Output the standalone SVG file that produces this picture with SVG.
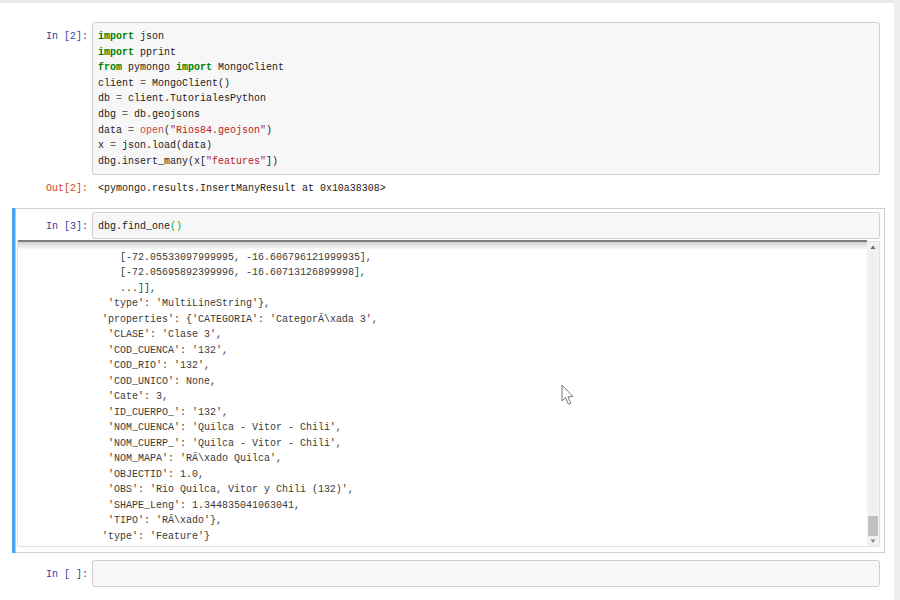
<svg xmlns="http://www.w3.org/2000/svg" width="900" height="600" viewBox="0 0 900 600">
<style>
.code{font-family:"Liberation Mono","DejaVu Sans Mono",monospace;font-size:11.5px;fill:#222}
.pin{fill:#303F9F}
.pout{fill:#D84315}
.kw{fill:#008000;font-weight:bold}
.str{fill:#BA2121}
.bi{fill:#c0504d}
.op{fill:#666}
.mb{fill:#11aa11}
.out{fill:#3a3a3a}
.inbox{fill:#f7f7f7;stroke:#cfcfcf;stroke-width:1}
</style>
<defs>
<clipPath id="outclip"><rect x="18" y="242" width="849" height="305"/></clipPath>
<linearGradient id="shadow" x1="0" y1="0" x2="0" y2="1">
<stop offset="0" stop-color="#000" stop-opacity="0.18"/>
<stop offset="1" stop-color="#000" stop-opacity="0"/>
</linearGradient>
</defs>
<rect width="900" height="600" fill="#ffffff"/>
<rect x="0" y="0" width="900" height="3" fill="#e9e9e9"/>
<rect x="894" y="0" width="6" height="600" fill="#eeeeee"/>

<g id="cell1">
<rect class="inbox" x="92.5" y="22.5" width="787" height="152" rx="2"/>
<g transform="translate(88 0) scale(0.87 1)" class="code" text-anchor="end">
<text class="pin" x="0" y="39">In [2]:</text>
<text class="pout" x="0" y="191">Out[2]:</text>
</g>
<g transform="translate(98 0) scale(0.87 1)" class="code">
<text x="0" y="39"><tspan class="kw">import</tspan> json</text>
<text x="0" y="54.6"><tspan class="kw">import</tspan> pprint</text>
<text x="0" y="70.2"><tspan class="kw">from</tspan> pymongo <tspan class="kw">import</tspan> MongoClient</text>
<text x="0" y="85.8">client <tspan class="op">=</tspan> MongoClient()</text>
<text x="0" y="101.4">db <tspan class="op">=</tspan> client.TutorialesPython</text>
<text x="0" y="117">dbg <tspan class="op">=</tspan> db.geojsons</text>
<text x="0" y="132.6">data <tspan class="op">=</tspan> <tspan class="bi">open</tspan>(<tspan class="str">"Rios84.geojson"</tspan>)</text>
<text x="0" y="148.2">x <tspan class="op">=</tspan> json.load(data)</text>
<text x="0" y="163.8">dbg.insert_many(x[<tspan class="str">"features"</tspan>])</text>
<text x="0" y="191">&lt;pymongo.results.InsertManyResult at 0x10a38308&gt;</text>
</g>
</g>

<g id="cell2">
<rect x="12.5" y="208.5" width="872" height="344" fill="#fff" stroke="#cfcfcf"/>
<rect x="12" y="208" width="3.5" height="345" fill="#42A5F5"/>
<rect class="inbox" x="92.5" y="212.5" width="787" height="26" rx="2"/>
<g transform="translate(88 0) scale(0.87 1)" class="code" text-anchor="end">
<text class="pin" x="0" y="229">In [3]:</text>
</g>
<g transform="translate(98 0) scale(0.87 1)" class="code">
<text x="0" y="229">dbg.find_one<tspan class="mb">()</tspan></text>
</g>
<g id="output">
<rect x="17.5" y="241.5" width="862" height="305" fill="#fff" stroke="#e2e2e2"/>
<rect x="18" y="242" width="849" height="8" fill="url(#shadow)"/>
<rect x="18" y="240" width="849" height="2" fill="#7d7d7d"/>
<g clip-path="url(#outclip)">
<g transform="translate(102 0) scale(0.87 1)" class="code out">
<text x="20.69" y="260">[-72.05533097999995, -16.606796121999935],</text>
<text x="20.69" y="275.5">[-72.05695892399996, -16.60713126899998],</text>
<text x="20.69" y="291">...]],</text>
<text x="6.9" y="306.5">'type': 'MultiLineString'},</text>
<text x="0" y="322">'properties': {'CATEGORIA': 'CategorÃ\xada 3',</text>
<text x="6.9" y="337.5">'CLASE': 'Clase 3',</text>
<text x="6.9" y="353">'COD_CUENCA': '132',</text>
<text x="6.9" y="368.5">'COD_RIO': '132',</text>
<text x="6.9" y="384">'COD_UNICO': None,</text>
<text x="6.9" y="399.5">'Cate': 3,</text>
<text x="6.9" y="415">'ID_CUERPO_': '132',</text>
<text x="6.9" y="430.5">'NOM_CUENCA': 'Quilca - Vitor - Chili',</text>
<text x="6.9" y="446">'NOM_CUERP_': 'Quilca - Vitor - Chili',</text>
<text x="6.9" y="461.5">'NOM_MAPA': 'RÃ\xado Quilca',</text>
<text x="6.9" y="477">'OBJECTID': 1.0,</text>
<text x="6.9" y="492.5">'OBS': 'Rio Quilca, Vitor y Chili (132)',</text>
<text x="6.9" y="508">'SHAPE_Leng': 1.344835041063041,</text>
<text x="6.9" y="523.5">'TIPO': 'RÃ\xado'},</text>
<text x="0" y="539">'type': 'Feature'}</text>
</g>
</g>
<g id="scrollbar">
<rect x="867" y="242" width="12" height="304" fill="#f1f1f1"/>
<polygon points="870.5,249 873,245.5 875.5,249" fill="#666"/>
<rect x="868" y="516" width="10" height="20" fill="#c1c1c1"/>
<polygon points="870.5,539.5 873,543 875.5,539.5" fill="#888"/>
</g>
</g>
</g>

<g id="cell3">
<rect class="inbox" x="92.5" y="560.5" width="787" height="26" rx="2"/>
<g transform="translate(88 0) scale(0.87 1)" class="code" text-anchor="end">
<text class="pin" x="0" y="577">In [ ]:</text>
</g>
</g>

<g id="cursor">
<polygon points="562,385 562,401 565.6,397.6 568.4,404.2 570.8,403.2 568,396.8 573,396.6" fill="#fff" stroke="#777" stroke-width="1"/>
</g>
</svg>
